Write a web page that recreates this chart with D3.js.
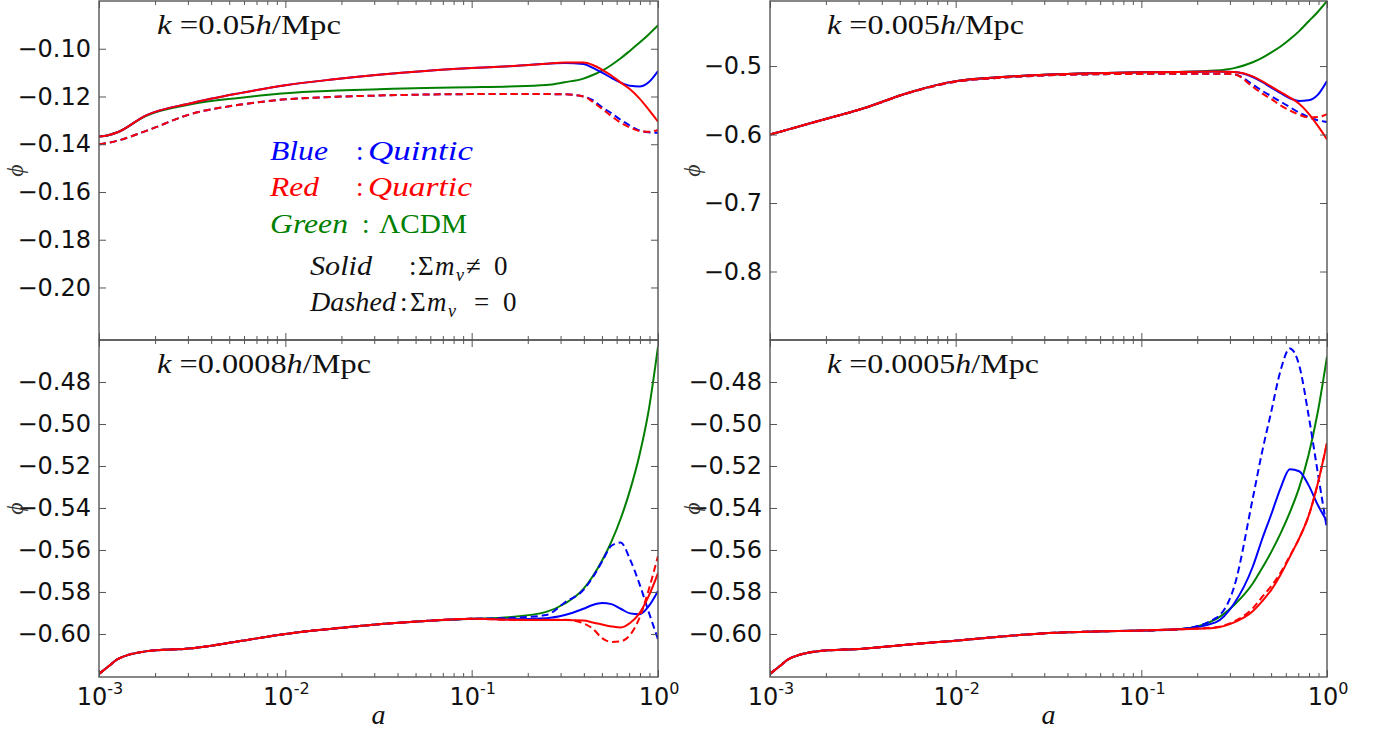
<!DOCTYPE html>
<html><head><meta charset="utf-8">
<script src="https://cdn.jsdelivr.net/npm/d3@7"></script>
<style>body{margin:0;background:#fff}</style>
</head><body><svg id="c" width="1380" height="737"></svg>
<script>
// ---------- DATA ----------
const logA = [-3, -2.95, -2.9, -2.75, -2.5, -2.25, -2, -1.75, -1.5, -1.25, -1, -0.8, -0.6, -0.5, -0.4, -0.35, -0.3, -0.25, -0.2, -0.15, -0.1, -0.05, 0];
const kValues = ["0.05", "0.005", "0.0008", "0.0005"];
const xTickExp = [-3, -2, -1, 0];
const tlYTicks = [-0.20, -0.18, -0.16, -0.14, -0.12, -0.10];
const trYTicks = [-0.8, -0.7, -0.6, -0.5];
const botYTicks = [-0.60, -0.58, -0.56, -0.54, -0.52, -0.50, -0.48];
const tlDomain = [-0.222, -0.08];
const trDomain = [-0.9, -0.405];
const botDomain = [-0.6205, -0.46];

// k = 0.05
const tlBlueSolid  = [-0.1368,-0.1362,-0.1350,-0.1280,-0.1227,-0.1187,-0.1153,-0.1129,-0.1109,-0.1093,-0.1081,-0.1073,-0.1063,-0.1060,-0.1064,-0.1080,-0.1100,-0.1122,-0.1142,-0.1155,-0.1158,-0.1140,-0.1093];
const tlRedSolid   = [-0.1368,-0.1362,-0.1350,-0.1280,-0.1227,-0.1187,-0.1153,-0.1129,-0.1109,-0.1093,-0.1081,-0.1073,-0.1063,-0.1058,-0.1058,-0.1068,-0.1088,-0.1112,-0.1142,-0.1170,-0.1208,-0.1255,-0.1305];
const tlGreen      = [-0.1368,-0.1362,-0.1350,-0.1282,-0.1232,-0.1206,-0.1186,-0.1176,-0.1170,-0.1164,-0.1161,-0.1158,-0.1152,-0.1140,-0.1125,-0.1110,-0.1092,-0.1068,-0.1040,-0.1008,-0.0975,-0.0940,-0.0902];
const tlBlueDashed = [-0.1400,-0.1394,-0.1385,-0.1345,-0.1272,-0.1235,-0.1212,-0.1202,-0.1196,-0.1192,-0.1190,-0.1190,-0.1190,-0.1191,-0.1200,-0.1215,-0.1245,-0.1270,-0.1298,-0.1322,-0.1342,-0.1350,-0.1352];
const tlRedDashed  = [-0.1400,-0.1394,-0.1385,-0.1345,-0.1272,-0.1235,-0.1212,-0.1202,-0.1196,-0.1192,-0.1190,-0.1190,-0.1190,-0.1191,-0.1200,-0.1222,-0.1252,-0.1282,-0.1310,-0.1330,-0.1345,-0.1348,-0.1340];

// k = 0.005
const trBlueSolid  = [-0.6000,-0.5962,-0.5924,-0.5810,-0.5620,-0.5385,-0.5220,-0.5160,-0.5125,-0.5105,-0.5092,-0.5085,-0.5080,-0.5088,-0.5160,-0.5232,-0.5315,-0.5395,-0.5470,-0.5510,-0.5500,-0.5420,-0.5217];
const trRedSolid   = [-0.6000,-0.5962,-0.5924,-0.5810,-0.5620,-0.5385,-0.5220,-0.5160,-0.5125,-0.5105,-0.5092,-0.5085,-0.5080,-0.5085,-0.5150,-0.5220,-0.5300,-0.5380,-0.5460,-0.5550,-0.5690,-0.5870,-0.6070];
const trGreen      = [-0.6000,-0.5962,-0.5924,-0.5810,-0.5620,-0.5385,-0.5220,-0.5160,-0.5125,-0.5105,-0.5092,-0.5085,-0.5065,-0.5030,-0.4945,-0.4880,-0.4800,-0.4715,-0.4610,-0.4490,-0.4350,-0.4210,-0.4050];
const trBlueDashed = [-0.6000,-0.5962,-0.5924,-0.5810,-0.5622,-0.5390,-0.5230,-0.5170,-0.5135,-0.5120,-0.5115,-0.5112,-0.5112,-0.5120,-0.5270,-0.5360,-0.5440,-0.5520,-0.5600,-0.5680,-0.5745,-0.5790,-0.5817];
const trRedDashed  = [-0.6000,-0.5962,-0.5924,-0.5810,-0.5622,-0.5390,-0.5230,-0.5170,-0.5135,-0.5120,-0.5115,-0.5112,-0.5112,-0.5120,-0.5303,-0.5400,-0.5480,-0.5575,-0.5650,-0.5710,-0.5750,-0.5745,-0.5704];

// k = 0.0008
const blBlueSolid  = [-0.6190,-0.6155,-0.6120,-0.6083,-0.6068,-0.6035,-0.6000,-0.5975,-0.5954,-0.5938,-0.5928,-0.5930,-0.5925,-0.5910,-0.5880,-0.5862,-0.5853,-0.5858,-0.5880,-0.5902,-0.5906,-0.5868,-0.5795];
const blRedSolid   = [-0.6190,-0.6155,-0.6120,-0.6083,-0.6068,-0.6035,-0.6000,-0.5975,-0.5954,-0.5938,-0.5928,-0.5932,-0.5934,-0.5934,-0.5936,-0.5945,-0.5955,-0.5964,-0.5969,-0.5948,-0.5902,-0.5820,-0.5710];
const blGreen      = [-0.6190,-0.6155,-0.6120,-0.6083,-0.6068,-0.6035,-0.6000,-0.5975,-0.5954,-0.5938,-0.5928,-0.5920,-0.5895,-0.5855,-0.5785,-0.5725,-0.5650,-0.5560,-0.5450,-0.5315,-0.5150,-0.4935,-0.4632];
const blBlueDashed = [-0.6190,-0.6155,-0.6120,-0.6083,-0.6068,-0.6035,-0.6000,-0.5975,-0.5954,-0.5938,-0.5928,-0.5924,-0.5910,-0.5850,-0.5790,-0.5730,-0.5655,-0.5580,-0.5565,-0.5645,-0.5760,-0.5895,-0.6025];
const blRedDashed  = [-0.6190,-0.6155,-0.6120,-0.6083,-0.6068,-0.6035,-0.6000,-0.5975,-0.5954,-0.5938,-0.5928,-0.5932,-0.5932,-0.5932,-0.5950,-0.5975,-0.6020,-0.6038,-0.6035,-0.6005,-0.5925,-0.5790,-0.5629];

// k = 0.0005
const brBlueSolid  = [-0.6190,-0.6155,-0.6120,-0.6083,-0.6070,-0.6050,-0.6032,-0.6012,-0.5996,-0.5988,-0.5984,-0.5978,-0.5945,-0.5855,-0.5680,-0.5550,-0.5430,-0.5305,-0.5215,-0.5225,-0.5290,-0.5385,-0.5463];
const brRedSolid   = [-0.6190,-0.6155,-0.6120,-0.6083,-0.6070,-0.6050,-0.6032,-0.6012,-0.5996,-0.5988,-0.5984,-0.5978,-0.5970,-0.5945,-0.5892,-0.5845,-0.5790,-0.5718,-0.5632,-0.5545,-0.5440,-0.5285,-0.5090];
const brGreen      = [-0.6190,-0.6155,-0.6120,-0.6083,-0.6070,-0.6050,-0.6032,-0.6012,-0.5996,-0.5988,-0.5984,-0.5978,-0.5930,-0.5862,-0.5760,-0.5687,-0.5609,-0.5521,-0.5421,-0.5303,-0.5150,-0.4945,-0.4679];
const brBlueDashed = [-0.6190,-0.6155,-0.6120,-0.6083,-0.6070,-0.6050,-0.6032,-0.6012,-0.5996,-0.5988,-0.5984,-0.5978,-0.5925,-0.5775,-0.5355,-0.5135,-0.4940,-0.4745,-0.4640,-0.4720,-0.4955,-0.5230,-0.5502];
const brRedDashed  = [-0.6190,-0.6155,-0.6120,-0.6083,-0.6070,-0.6050,-0.6032,-0.6012,-0.5996,-0.5988,-0.5984,-0.5978,-0.5968,-0.5940,-0.5878,-0.5825,-0.5772,-0.5708,-0.5628,-0.5545,-0.5440,-0.5285,-0.5090];

const legendNames = ["Blue", "Red", "Green"];
const legendModels = ["Quintic", "Quartic", "\u039BCDM"];
const legendStyles = ["Solid", "Dashed"];

// ---------- LAYOUT / STYLE ----------
const BLUE = "#0000ff", RED = "#ff0000", GREEN = "#007f00";
const FRAME = "#555";
const cols = [{x0: 99, x1: 658}, {x0: 770, x1: 1327}];
const rows = [{y0: 1, y1: 340}, {y0: 340, y1: 677}];
const serif = "'Liberation Serif', 'DejaVu Serif', serif";
const sans = "'DejaVu Sans', sans-serif";

const svg = d3.select("#c");
const defs = svg.append("defs");

const panels = [
  {c: 0, r: 0, k: kValues[0], dom: tlDomain, ticks: tlYTicks, fmt: d3.format(".2f"), tw: 184,
   series: [[tlGreen, GREEN, false], [tlBlueDashed, BLUE, true], [tlBlueSolid, BLUE, false], [tlRedDashed, RED, true], [tlRedSolid, RED, false]]},
  {c: 1, r: 0, k: kValues[1], dom: trDomain, ticks: trYTicks, fmt: d3.format(".1f"), tw: 197,
   series: [[trGreen, GREEN, false], [trBlueDashed, BLUE, true], [trBlueSolid, BLUE, false], [trRedDashed, RED, true], [trRedSolid, RED, false]]},
  {c: 0, r: 1, k: kValues[2], dom: botDomain, ticks: botYTicks, fmt: d3.format(".2f"), tw: 214,
   series: [[blGreen, GREEN, false], [blBlueDashed, BLUE, true], [blBlueSolid, BLUE, false], [blRedDashed, RED, true], [blRedSolid, RED, false]]},
  {c: 1, r: 1, k: kValues[3], dom: botDomain, ticks: botYTicks, fmt: d3.format(".2f"), tw: 212,
   series: [[brGreen, GREEN, false], [brBlueDashed, BLUE, true], [brBlueSolid, BLUE, false], [brRedDashed, RED, true], [brRedSolid, RED, false]]}
];

const majorX = xTickExp.map(e => Math.pow(10, e));
const minorX = [];
xTickExp.slice(0, -1).forEach(e => { for (let m = 2; m <= 9; m++) minorX.push(m * Math.pow(10, e)); });

panels.forEach((p, i) => {
  const {x0, x1} = cols[p.c];
  const {y0, y1} = rows[p.r];
  const x = d3.scaleLog().domain([1e-3, 1]).range([x0, x1]);
  const y = d3.scaleLinear().domain(p.dom).range([y1, y0]);
  const g = svg.append("g");

  defs.append("clipPath").attr("id", "clip" + i)
    .append("rect").attr("x", x0).attr("y", y0).attr("width", x1 - x0).attr("height", y1 - y0);

  const line = d3.line().x((d, j) => x(Math.pow(10, logA[j]))).y(d => y(d)).curve(d3.curveMonotoneX);
  const lg = g.append("g").attr("clip-path", `url(#clip${i})`);
  p.series.forEach(([vals, col, dashed]) => {
    lg.append("path").attr("d", line(vals)).attr("fill", "none").attr("stroke", col)
      .attr("stroke-width", 2).attr("stroke-dasharray", dashed ? "7,4" : null)
      .attr("stroke-linejoin", "round");
  });

  // ticks (inward on all sides)
  const axStyle = sel => { sel.select(".domain").remove(); sel.selectAll("line").attr("stroke", FRAME).attr("stroke-width", 1); };
  const yAx = g.append("g").attr("transform", `translate(${x0},0)`)
    .call(d3.axisLeft(y).tickValues(p.ticks).tickSize(-7).tickPadding(8).tickFormat(p.fmt));
  axStyle(yAx);
  yAx.attr("font-size", null).attr("font-family", null);
  yAx.selectAll("text").style("font-family", sans).style("font-size", "24px").style("fill", "#111");
  const yAxR = g.append("g").attr("transform", `translate(${x1},0)`)
    .call(d3.axisRight(y).tickValues(p.ticks).tickSize(-7).tickFormat(""));
  axStyle(yAxR);
  [[y1, d3.axisBottom], [y0, d3.axisTop]].forEach(([yy, ax]) => {
    axStyle(g.append("g").attr("transform", `translate(0,${yy})`)
      .call(ax(x).tickValues(majorX).tickSize(-7).tickFormat("")));
    axStyle(g.append("g").attr("transform", `translate(0,${yy})`)
      .call(ax(x).tickValues(minorX).tickSize(-4).tickFormat("")));
  });

  // frame
  g.append("rect").attr("x", x0).attr("y", y0).attr("width", x1 - x0).attr("height", y1 - y0)
    .attr("fill", "none").attr("stroke", FRAME).attr("stroke-width", 1.4);

  // title
  const t = g.append("text").attr("x", x0 + (p.c === 0 ? 58 : 57)).attr("y", y0 + 33)
    .attr("font-family", serif).attr("font-size", 27).attr("fill", "#111")
    .attr("textLength", p.tw).attr("lengthAdjust", "spacingAndGlyphs");
  t.append("tspan").attr("font-style", "italic").text("k");
  t.append("tspan").text(" =" + p.k);
  t.append("tspan").attr("font-style", "italic").text("h");
  t.append("tspan").text("/Mpc");

  // y label
  const ly = (y0 + y1) / 2;
  const lx = p.c === 0 ? 15 : 692;
  g.append("text").attr("transform", `translate(${lx},${ly}) rotate(-90)`)
    .attr("text-anchor", "middle").attr("dy", "0.35em")
    .style("font-family", serif).style("font-style", "italic").style("font-size", "24px").attr("fill", "#333")
    .text("\u03D5");

  // x tick labels and x label on bottom row
  if (p.r === 1) {
    xTickExp.forEach(e => {
      const tx = g.append("text").attr("x", x(Math.pow(10, e)) + 1).attr("y", y1 + 28)
        .attr("text-anchor", "middle").style("font-family", sans).attr("fill", "#111");
      tx.append("tspan").style("font-size", "24px").text("10");
      tx.append("tspan").style("font-size", "16px").attr("dy", -11).text(e === 0 ? "0" : "-" + (-e));
    });
    g.append("text").attr("x", (x0 + x1) / 2).attr("y", y1 + 47).attr("text-anchor", "middle")
      .style("font-family", serif).style("font-style", "italic").style("font-size", "28px").attr("fill", "#111")
      .text("a");
  }
});

// ---------- LEGEND (inside top-left panel) ----------
const leg = svg.append("g").attr("font-family", serif).attr("font-size", 27);
const legColors = [BLUE, RED, GREEN];
const legBase = [160, 196, 233];
const legModelWidths = [105, 104, 88];
const legNameWidths = [58, 49, 78];
legendNames.forEach((n, i) => {
  leg.append("text").attr("x", 270).attr("y", legBase[i]).attr("fill", legColors[i])
    .attr("font-style", "italic").attr("textLength", legNameWidths[i]).attr("lengthAdjust", "spacingAndGlyphs").text(n);
  leg.append("text").attr("x", i === 2 ? 362 : 356).attr("y", legBase[i]).attr("fill", legColors[i]).text(":");
  leg.append("text").attr("x", i === 2 ? 379 : 368).attr("y", legBase[i]).attr("fill", legColors[i])
    .attr("font-style", i === 2 ? "normal" : "italic")
    .attr("textLength", legModelWidths[i]).attr("lengthAdjust", "spacingAndGlyphs").text(legendModels[i]);
});
const sBase = [275, 311];
const sNameW = [62, 86];
const colonX = [409, 400];
const sigmaX = [418, 410];
const relX = [466, 474];
const zeroX = [494, 503];
legendStyles.forEach((n, i) => {
  leg.append("text").attr("x", 310).attr("y", sBase[i]).attr("fill", "#111").attr("font-style", "italic")
    .attr("textLength", sNameW[i]).attr("lengthAdjust", "spacingAndGlyphs").text(n);
  leg.append("text").attr("x", colonX[i]).attr("y", sBase[i]).attr("fill", "#111").text(":");
  leg.append("text").attr("x", sigmaX[i]).attr("y", sBase[i]).attr("fill", "#111").text("\u03A3");
  leg.append("text").attr("x", sigmaX[i] + 17).attr("y", sBase[i]).attr("fill", "#111").attr("font-style", "italic").text("m");
  leg.append("text").attr("x", sigmaX[i] + 38).attr("y", sBase[i] + 6).attr("fill", "#111").attr("font-style", "italic")
    .attr("font-size", 18).text("\u03BD");
  leg.append("text").attr("x", relX[i]).attr("y", sBase[i]).attr("fill", "#111").text(i === 0 ? "\u2260" : "=");
  leg.append("text").attr("x", zeroX[i]).attr("y", sBase[i]).attr("fill", "#111").text("0");
});
</script>
</body></html>
